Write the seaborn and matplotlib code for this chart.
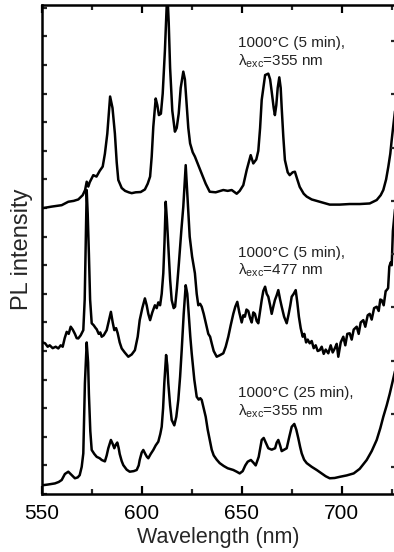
import numpy as np
import pandas as pd
import seaborn as sns
import matplotlib
matplotlib.use("Agg")
import matplotlib.pyplot as plt
from matplotlib.ticker import MultipleLocator, FixedLocator, NullFormatter

# ---------------- data ----------------
# Series 1: 1000°C (5 min), λexc = 355 nm (top trace, offset)
wl_355_5 = [550.8, 555, 560, 563.3, 566, 568.3, 570.5, 571.7, 572.5, 573.3, 574, 575.8, 577.4,
            579, 580.5, 581.6, 582.8, 584.2, 585.4, 586.6, 587.5, 588.3, 590, 591.7, 593.5, 595,
            597, 599.5, 601.6, 603, 604.2, 605, 605.8, 607, 607.8, 608.6, 609.6, 610.5, 611.6,
            612.8, 613.5, 614.2, 615.3, 616.6, 617.5, 618.5, 619.5, 620.8, 621.6, 622.5, 623.3,
            624.2, 625.5, 626.6, 628.3, 630, 632, 634, 637, 640.8, 643, 645, 647.5, 649, 650.8,
            652.5, 654.5, 655.8, 657.3, 658.3, 659.2, 660, 661.7, 663.3, 664.2, 665, 666, 666.6,
            667.3, 668, 668.8, 669.5, 670, 670.8, 671.6, 673, 674, 675.5, 676.6, 677.8, 679, 681,
            682.5, 685, 689, 694, 699, 704, 709, 714, 717.5, 719.5, 720.8, 722.2, 723.3, 724.3,
            725, 726, 727]
pl_355_5 = [10.0, 10.05, 10.1, 10.22, 10.25, 10.3, 10.45, 10.63, 10.92, 10.75, 10.9, 11.15, 11.1,
            11.3, 11.45, 11.9, 12.6, 13.9, 13.5, 12.6, 11.6, 10.98, 10.7, 10.6, 10.55, 10.52,
            10.55, 10.56, 10.65, 10.85, 11.1, 11.8, 12.84, 13.83, 13.6, 13.25, 13.3, 14.0, 15.5,
            17.6, 16.5, 14.9, 13.4, 12.67, 12.8, 13.3, 14.2, 14.77, 14.5, 13.6, 12.8,
            12.26, 11.95, 11.8, 11.5, 11.2, 10.85, 10.57, 10.55, 10.63, 10.6, 10.63, 10.5, 10.6, 10.8,
            11.33, 11.85, 11.56, 11.7, 12.0, 12.8, 13.78, 14.65, 14.7, 14.5, 14.07, 13.5, 13.25,
            13.6, 14.2, 14.57, 14.2, 13.5, 12.5, 11.68, 11.25, 11.15, 11.25, 11.27, 11.0, 10.74, 10.5,
            10.4, 10.3, 10.22, 10.12, 10.12, 10.14, 10.14, 10.16, 10.28, 10.45, 10.63, 11.0, 11.44, 11.9,
            12.38, 13.0, 13.6]

# Series 2: 1000°C (5 min), λexc = 477 nm (middle trace, offset)
wl_477_5 = [550.5, 551.7, 553, 554, 555.5, 557, 558.3, 559.5, 560.5, 561.5, 562.5, 563.5, 564.5,
            565.5, 566.6, 567.5, 568.3, 569.5, 570.8, 571.5, 572, 572.5, 573, 573.6, 574.2, 575,
            576, 577, 577.5, 578.5, 579.3, 580, 581, 582.5, 583.7, 584.6, 585.5, 586.3, 587.2, 588,
            589, 590, 591.5, 593.3, 595, 596.6, 598, 599, 600.3, 601.6, 602.5, 603.3, 604.2, 605.3,
            606.6, 607.5, 608.3, 609.2, 610, 610.8, 611.4, 612, 612.6, 613.3, 614.2, 615, 616,
            616.7, 617.6, 618.6, 619.8, 620.8, 622, 622.8, 624, 625.2, 626.6, 627.5, 628.3, 629.2,
            630, 631, 632.5, 633.3, 634.2, 635, 636, 637.5, 639, 640.8, 642, 643.3, 644.5, 645.8,
            646.8, 647.8, 648.8, 650, 650.8, 651.6, 652.4, 653.3, 654.2, 655, 655.8, 656.6, 657.5,
            658.3, 659.2, 660, 660.8, 661.7, 662.5, 663.3, 664.2, 665, 665.8, 666.6, 667.5, 668.3,
            669.2, 670, 671.2, 672.5, 673.5, 674.3, 675, 676, 677, 677.8, 678.6, 679.5, 680.5,
            681.3, 682.2, 683, 684, 685, 686, 687, 688, 689, 690, 691, 692, 693.3, 694.5, 695.5,
            696.6, 697.5, 698.3, 699.5, 700.8, 701.8, 702.8, 704, 705, 706, 707.5, 708.5, 709.5,
            710.8, 711.8, 713, 714, 715, 716.2, 717.5, 718.5, 719.3, 720, 721, 722, 722.5, 723.2,
            723.8, 724.5, 725, 725.6, 726, 727]
pl_477_5 = [5.3, 5.27, 5.15, 5.2, 5.1, 5.15, 5.09, 5.2, 5.15, 5.45, 5.67, 5.6, 5.85,
            5.75, 5.6, 5.45, 5.44, 5.55, 5.73, 6.8, 8.65, 10.63, 9.8, 8.4, 6.8, 5.97,
            5.9, 5.8, 5.76, 5.6, 5.65, 5.5, 5.55, 5.73, 6.1, 6.37, 6.0, 5.73, 5.8, 5.62,
            5.3, 5.09, 4.95, 4.8, 4.88, 5.03, 5.5, 6.08, 6.5, 6.84, 6.6, 6.3, 6.08, 6.35,
            6.6, 6.5, 6.7, 6.6, 7.0, 7.72, 8.8, 10.22, 9.6, 8.65, 7.5, 6.78, 6.5,
            6.55, 7.2, 8.07, 9.2, 10.05, 11.5, 10.5, 9.0, 8.3, 7.72, 7.0, 6.6, 6.65,
            6.55, 6.3, 5.85, 5.6, 5.5, 5.27, 5.0, 4.8, 4.85, 4.92, 5.15, 5.5, 5.9, 6.3,
            6.55, 6.72, 6.35, 6.0, 6.25, 6.2, 6.45, 6.4, 6.15, 6.0, 6.35, 6.3, 6.05,
            5.97, 6.4, 6.78, 7.1, 7.25, 7.0, 6.9, 6.6, 6.3, 6.55, 6.78, 6.95, 7.13,
            6.8, 6.55, 6.2, 5.97, 6.3, 6.6, 6.9, 7.0, 7.13, 6.7, 6.2, 5.8, 5.5,
            5.6, 5.3, 5.4, 5.27, 5.35, 5.1, 5.2, 5.0, 5.03, 5.15, 4.9, 5.05, 4.92, 5.2, 4.95,
            5.1, 5.25, 4.8, 5.3, 5.5, 5.2, 5.6, 5.62, 5.4, 5.75, 5.85, 5.6, 6.0,
            6.08, 5.85, 6.25, 6.3, 6.1, 6.5, 6.55, 6.4, 6.8, 6.78, 6.6, 7.1, 7.13, 7.2,
            7.95, 8.1, 8.0, 9.2, 9.5, 10.2]

# Series 3: 1000°C (25 min), λexc = 355 nm (bottom trace)
wl_355_25 = [550.8, 553, 556.6, 558.5, 560, 561.6, 563.3, 565, 566.6, 568, 569, 570, 570.8, 571.6,
             572.5, 573.2, 573.6, 574.3, 575, 576.3, 577.5, 579, 580, 581.6, 582.5, 583.3, 584.6,
             585.5, 586.3, 587, 587.8, 588.5, 589, 590, 590.8, 592.5, 594, 596, 597.5, 598.5, 599,
             600, 600.8, 601.8, 602.6, 603.3, 604.5, 605.8, 607, 608.3, 609.3, 610, 610.7, 611.3,
             612.2, 612.8, 613.3, 614.2, 615, 616.3, 617.3, 618.3, 619.2, 620, 621, 622, 622.8,
             623.5, 624.3, 625, 626.3, 627.5, 628.5, 629.3, 630, 631, 632, 633, 634, 635, 636,
             637.5, 639, 641, 643, 645.8, 647.5, 649, 650.5, 651.8, 653, 654.6, 655.8, 657, 658.5,
             660, 661, 662, 663.3, 665, 666.7, 667.5, 668.3, 669.2, 670, 671.3, 672.5, 673.8, 675,
             676.3, 677.3, 678.3, 679.2, 680, 681.2, 682.5, 685, 687.5, 690, 692, 694, 696.5, 699,
             702.5, 706, 709, 712.5, 715, 717.5, 719.3, 720.8, 722.5, 724, 725, 726, 727]
pl_355_25 = [0.31, 0.33, 0.37, 0.42, 0.49, 0.7, 0.78, 0.66, 0.55, 0.58, 0.66, 0.95, 1.42, 3.87,
             5.3, 4.6, 3.5, 2.2, 1.54, 1.4, 1.3, 1.25, 1.19, 1.14, 1.35, 1.6, 1.89,
             1.75, 1.6, 1.72, 1.8, 1.6, 1.4, 1.15, 1.01, 0.85, 0.78, 0.8, 0.84, 1.0, 1.19,
             1.45, 1.54, 1.4, 1.3, 1.25, 1.4, 1.54, 1.7, 1.83, 2.1, 2.35, 3.0, 3.87,
             4.86, 4.5, 3.87, 3.1, 2.59, 2.4, 2.7, 3.29, 4.1, 5.03, 6.3, 7.3, 7.0,
             6.3, 5.5, 4.92, 4.0, 3.4, 3.3, 3.35, 3.29, 3.0, 2.7, 2.25, 1.89, 1.55, 1.35,
             1.2, 1.08, 0.98, 0.9, 0.84, 0.78, 0.72, 0.8, 1.0, 1.13, 1.19, 1.1, 1.0, 1.3,
             1.89, 1.96, 1.8, 1.6, 1.55, 1.6, 1.8, 1.89, 1.7, 1.5, 1.55, 1.6, 2.0, 2.35,
             2.45, 2.25, 1.95, 1.65, 1.42, 1.2, 1.08, 0.95, 0.84, 0.72, 0.62, 0.55, 0.56, 0.6,
             0.65, 0.72, 0.88, 1.19, 1.5, 1.89, 2.3, 2.7, 3.1, 3.5, 3.8, 4.1, 4.4]

series_names = ["1000°C (5 min), λexc=355 nm",
                "1000°C (5 min), λexc=477 nm",
                "1000°C (25 min), λexc=355 nm"]

x_major_ticks = [550, 600, 650, 700]
x_tick_labels = ["550", "600", "650", "700"]

# ---------------- build long-form table ----------------
frames = []
for name, wl, pl in zip(series_names,
                        [wl_355_5, wl_477_5, wl_355_25],
                        [pl_355_5, pl_477_5, pl_355_25]):
    frames.append(pd.DataFrame({"Wavelength": wl, "PL": pl, "series": name}))
df = pd.concat(frames, ignore_index=True)

# ---------------- styling ----------------
sns.set_style("ticks")
plt.rcParams["font.family"] = ["Liberation Sans", "DejaVu Sans"]
plt.rcParams["mathtext.fontset"] = "custom"
plt.rcParams["mathtext.rm"] = "Liberation Sans"
plt.rcParams["mathtext.it"] = "Liberation Sans:italic"

fig = plt.figure(figsize=(3.94, 5.52), dpi=100)
W, H = 394.0, 552.0
ax = fig.add_axes([41.7 / W, (H - 494) / H, 354.0 / W, 489.0 / H])

sns.lineplot(data=df, x="Wavelength", y="PL", units="series", estimator=None,
             sort=False, color="black", linewidth=1.8, ax=ax, legend=False)

ax.set_xlim(550, 727)
ax.set_ylim(0, 17.1)

for side in ["left", "right", "top", "bottom"]:
    ax.spines[side].set_linewidth(1.8)
    ax.spines[side].set_color("black")

ax.xaxis.set_major_locator(FixedLocator(x_major_ticks))
ax.set_xticklabels(x_tick_labels)
ax.xaxis.set_minor_locator(MultipleLocator(25))
ax.yaxis.set_major_locator(MultipleLocator(1))
ax.yaxis.set_major_formatter(NullFormatter())
ax.tick_params(axis="x", which="major", direction="in", length=6, width=1.6,
               top=True, bottom=True, labelsize=15, pad=7, colors="black")
ax.tick_params(axis="x", which="minor", direction="in", length=3.5, width=1.6,
               top=True, bottom=True)
ax.tick_params(axis="y", which="major", direction="in", length=3.5, width=1.6,
               left=True, right=False)

# right-hand ticks (different spacing in the reference)
ax2 = ax.twinx()
ax2.set_ylim(-0.5, 489.0 / 53.3 - 0.5)
ax2.yaxis.set_major_locator(MultipleLocator(1))
ax2.yaxis.set_major_formatter(NullFormatter())
ax2.tick_params(axis="y", direction="in", length=3.5, width=1.6, right=True, left=False)
for side in ["left", "right", "top", "bottom"]:
    ax2.spines[side].set_visible(False)
ax2.grid(False)

ax.set_xlabel("Wavelength (nm)", fontsize=15.5, labelpad=3)
ax.set_ylabel("PL intensity", fontsize=17)
ax.yaxis.set_label_coords(-0.024, 0.5)

# annotations
ann = [("1000°C (5 min),", "355 nm", 15.62, 14.97),
       ("1000°C (5 min),", "477 nm", 8.28, 7.66),
       ("1000°C (25 min),", "355 nm", 3.38, 2.73)]
for l1, exc, y1, y2 in ann:
    ax.text(648, y1, l1, fontsize=11, ha="left", va="baseline", color="#222222")
    ax.text(648, y2, "λ$_{\\mathrm{exc}}$=" + exc, fontsize=11, ha="left",
            va="baseline", color="#222222")

fig.savefig("out.png", dpi=100)
